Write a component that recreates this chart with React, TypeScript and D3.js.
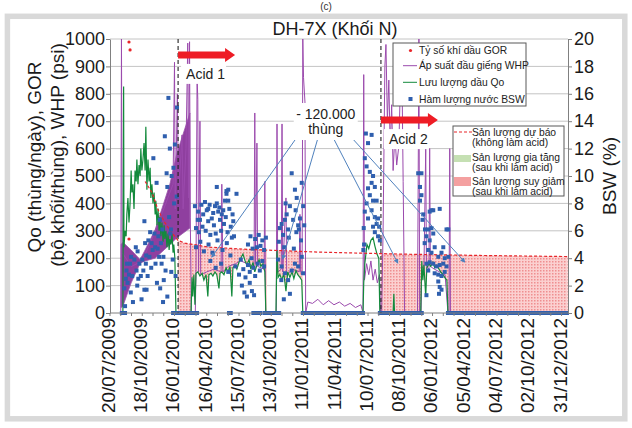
import React, { useEffect, useRef } from 'react';
import * as d3 from 'd3';

// days are counted from 20/07/2009
const startDate = new Date(2009, 6, 20);
const lastDay = 1278;
const leftTicks = d3.range(0, 1001, 100);
const rightTicks = d3.range(0, 21, 2);

// Qo (thùng/ngày)
const qoPoints: [number, number][] = [
	[28, 0], [36, 0], [38, 827], [39, 240], [42, 300], [45, 280], [47, 360], [50, 420], [53, 330], [56, 400],
	[59, 520], [61, 440], [64, 470], [67, 380], [70, 520], [73, 480], [75, 560], [78, 470], [81, 540], [84, 500],
	[86, 600], [89, 520], [92, 560], [95, 620], [98, 520], [100, 680], [103, 450], [106, 560], [109, 480], [112, 530],
	[114, 420], [117, 470], [120, 400], [123, 440], [126, 360], [128, 410], [131, 320], [134, 380], [137, 300], [139, 350],
	[142, 280], [145, 330], [148, 260], [151, 320], [153, 270], [156, 300], [159, 240], [162, 290], [165, 230], [167, 270],
	[170, 250], [173, 290], [176, 220], [178, 250], [181, 200], [184, 0],
	[226, 0], [229, 130], [231, 60], [234, 140], [237, 30], [240, 145], [245, 150], [251, 135], [257, 145], [262, 120],
	[268, 140], [273, 60], [276, 140], [282, 145], [287, 135], [293, 150], [298, 140], [304, 90], [307, 145], [312, 150],
	[318, 140], [324, 165], [329, 150], [335, 170], [340, 60], [343, 165], [349, 175], [354, 160], [360, 185], [365, 200],
	[371, 215], [377, 190], [382, 175], [388, 195], [393, 160], [399, 185], [404, 150], [410, 175], [416, 195], [421, 170],
	[427, 180], [432, 150], [435, 0],
	[463, 0], [466, 230], [469, 130], [474, 140], [480, 120], [485, 145], [491, 80], [496, 150], [502, 130], [508, 150],
	[513, 125], [519, 155], [524, 140], [530, 130], [535, 120], [538, 0],
	[706, 0], [708, 110], [711, 180], [717, 250], [722, 235], [728, 265], [734, 275], [739, 245], [745, 215], [750, 200], [753, 0],
	[790, 0], [792, 70], [794, 0],
	[867, 0], [870, 190], [873, 120], [876, 175], [881, 60], [884, 165], [890, 180], [895, 170], [901, 185], [906, 165],
	[912, 175], [918, 160], [923, 150], [929, 140], [934, 130], [940, 120], [943, 0], [1277, 0],
];

// WHP (psi)
const whpPoints: [number, number][] = [
	[30, 0], [32, 1000], [34, 220], [60, 170], [90, 190], [120, 280], [150, 380], [176, 470],
	[180, 915], [182, 380], [188, 800], [191, 420], [201, 650], [204, 380], [212, 600], [217, 985], [219, 420], [222, 990], [224, 350], [227, 0],
	[238, 0], [240, 160], [243, 860], [245, 780], [247, 150], [251, 700], [253, 140], [270, 150], [290, 160], [310, 150],
	[312, 470], [315, 150], [330, 170], [350, 180], [365, 190],
	[402, 170], [404, 730], [406, 180], [410, 620], [412, 170], [430, 160], [432, 480], [434, 0],
	[464, 0], [466, 690], [468, 150], [478, 160], [480, 690], [482, 150], [491, 420], [493, 140], [510, 160], [528, 150],
	[530, 360], [532, 150], [536, 140], [538, 1000], [540, 860], [544, 770], [546, 0],
	[552, 40], [565, 35], [580, 50], [595, 30], [610, 45], [625, 30], [640, 40], [655, 25], [670, 35], [685, 20], [700, 30],
	[706, 0], [708, 870], [710, 120], [716, 180], [722, 140], [728, 190], [734, 120], [740, 160], [746, 110], [752, 140], [755, 0],
	[758, 0], [762, 300], [767, 900], [770, 980], [774, 700], [778, 850], [782, 600], [786, 760], [790, 520], [795, 650],
	[800, 540], [806, 610], [810, 820], [814, 960], [818, 480], [822, 0],
	[858, 0], [862, 1000], [864, 0], [868, 0], [870, 170], [876, 160], [881, 600], [883, 170], [890, 160], [892, 600],
	[894, 170], [905, 160], [920, 150], [935, 140], [943, 0], [946, 0], [948, 600], [950, 0],
];

// WHP swings in 2009, drawn as a band (low / high)
const whpBandDays = [31, 36, 59, 84, 98, 126, 167, 187, 223];
const whpBandLow = [20, 25, 110, 182, 190, 200, 250, 275, 310];
const whpBandHigh = [250, 258, 230, 195, 230, 304, 470, 584, 730];

// BSW (%)
const bswPoints: [number, number][] = [
	[40, 1.8], [42, 0.5], [44, 2.5], [46, 3.1], [47, 3.6], [49, 2.2], [53, 2.8], [56, 3.6], [58, 1.5], [59, 4.1],
	[62, 2.7], [64, 0.8], [68, 3.9], [72, 4.8], [74, 3.1], [76, 2.0], [77, 4.5], [79, 2.5], [82, 3.6], [86, 2.7],
	[88, 1.0], [90, 3.9], [93, 3.1], [96, 6.7], [96, 1.7], [98, 5.1], [100, 3.6], [101, 4.2], [102, 1.7], [105, 2.7],
	[107, 5.3], [110, 4.1], [112, 5.9], [115, 3.3], [116, 5.1], [119, 4.6], [121, 11.3], [124, 5.8], [126, 4.8], [127, 3.6],
	[130, 9.5], [131, 2.2], [133, 4.7], [135, 5.6], [137, 4.1], [139, 6.8], [140, 1.8], [142, 5.1], [144, 3.6], [146, 6.1],
	[148, 0.8], [149, 4.1], [150, 2.4], [153, 12.9], [155, 3.1], [158, 10.2], [160, 9.2], [160, 1.2], [163, 15.7], [165, 7.0],
	[167, 12.0], [168, 5.8], [170, 6.1], [171, 3.0], [172, 10.0], [175, 3.9], [177, 10.6], [179, 8.0], [181, 12.3], [183, 2.7],
	[186, 8.5], [187, 15.0],
	[237, 7.8], [246, 7.4], [251, 6.8], [260, 7.2], [270, 7.5], [274, 6.7], [284, 6.9], [288, 7.3], [293, 7.8], [298, 8.0],
	[302, 7.4], [307, 6.8], [312, 7.2], [316, 7.5], [321, 8.2], [325, 8.7], [330, 8.2], [337, 6.3], [342, 7.2], [344, 6.7],
	[240, 6.2], [248, 5.9], [255, 7.9], [258, 6.3], [265, 8.1], [267, 6.0], [278, 7.9], [280, 5.7], [290, 6.4], [295, 5.8],
	[305, 7.7], [310, 6.0], [318, 6.5], [323, 7.0], [328, 5.9], [333, 7.6], [340, 5.5],
	[298, 9.2], [325, 8.9], [274, 7.6], [353, 8.7], [245, 6.8], [330, 9.0],
	[240, 4.8], [252, 5.2], [262, 4.5], [275, 5.0], [286, 4.4], [300, 5.3], [314, 4.6], [326, 5.1], [336, 4.2], [346, 5.6],
	[280, 3.8], [295, 3.3], [310, 3.6], [330, 3.0], [350, 3.4], [360, 2.8], [365, 3.9], [372, 3.2], [378, 2.6], [385, 3.5],
	[390, 3.0], [395, 4.0], [400, 3.3], [405, 2.7], [412, 3.6], [418, 3.1], [425, 3.8], [430, 3.4],
	[368, 2.0], [375, 1.5], [382, 1.2], [390, 2.2], [396, 1.6], [402, 1.3],
	[385, 5.0], [392, 5.6], [398, 4.7], [405, 5.4], [410, 4.8], [415, 5.7], [420, 4.9], [425, 5.3], [430, 4.6], [435, 5.5],
	[474, 6.2], [479, 6.5], [483, 5.7], [488, 6.8], [493, 7.2], [497, 6.1], [502, 7.8], [507, 10.2], [511, 6.8], [516, 9.0],
	[521, 8.4], [525, 6.4], [530, 6.9], [535, 9.5], [539, 7.8], [527, 6.1],
	[469, 3.9], [479, 3.4], [488, 2.9], [497, 2.4], [502, 1.4], [507, 3.1], [516, 3.6], [525, 3.4], [535, 4.1], [539, 2.9],
	[478, 2.4], [485, 1.0], [471, 5.2], [486, 4.8], [499, 5.5], [513, 4.7], [520, 5.9], [533, 5.3], [542, 6.4], [490, 8.0], [518, 7.5],
	[711, 11.3], [720, 12.4], [730, 13.0], [716, 10.7], [725, 10.3], [734, 10.0], [730, 9.5], [720, 9.1], [739, 9.2], [725, 8.6],
	[734, 8.2], [716, 8.0], [744, 8.2], [711, 7.4], [730, 7.5], [739, 7.0], [720, 6.9], [744, 6.5], [734, 6.3], [748, 6.9],
	[739, 5.9], [748, 5.6], [751, 6.3], [753, 5.3], [714, 13.1], [707, 4.6], [708, 6.2], [709, 5.0],
	[869, 10.2], [869, 8.6], [865, 8.2], [874, 7.2], [892, 7.4], [902, 7.5], [920, 7.6], [879, 6.1], [888, 6.1], [897, 6.2],
	[883, 5.6], [892, 5.3], [902, 5.8], [906, 4.8], [930, 4.8], [944, 6.1], [888, 4.6], [897, 4.4], [916, 4.1], [925, 4.4],
	[934, 4.0], [944, 4.1], [883, 3.6], [892, 3.7], [902, 3.6], [911, 3.4], [920, 3.5], [930, 3.6], [939, 3.4], [888, 3.1],
	[906, 2.9], [916, 2.8], [925, 2.7], [934, 3.0], [916, 2.3], [920, 1.9], [925, 1.7], [883, 1.3], [918, 1.4], [860, 10.2],
	[865, 9.2], [897, 7.5], [939, 6.1], [872, 6.8], [878, 5.1],
];
// runs of days where BSW = 0 (squares packed along the axis)
const bswZeroRuns: [number, number][] = [
	[33, 42], [176, 228], [237, 243], [332, 337], [400, 420], [432, 472], [538, 706], [753, 870], [943, 1275],
];

// GOR (bộ khối/thùng)
const gorPoints: [number, number][] = [[53, 989], [56, 960], [53, 270]];

// forecast without acid
const forecastPoints: [number, number][] = [
	[98, 480], [117, 440], [134, 377], [153, 330], [173, 292], [190, 265], [209, 255], [279, 240],
	[390, 232], [586, 222], [809, 215], [1032, 210], [1278, 206],
];
const declineRanges: [number, number][] = [[190, 438], [463, 538], [756, 1277]];

const acidDays = [190, 756];
const acidArrowEnd = [349, 915];
const acidArrowValue = [942, 704];
const acidNames = ['Acid 1', 'Acid 2'];

const calloutDay = 602;
const calloutFrom: [number, number][] = [[522, 642], [581, 642], [623, 639], [670, 646]];
const calloutTo: [number, number][] = [[284, 204], [482, 197], [803, 182], [990, 186]];

const FONT = "'Liberation Sans', Arial, sans-serif";

const bis = d3.bisector((p: [number, number]) => p[0]).left;
function valueAt(pts: [number, number][], d: number) {
	const i = bis(pts, d);
	if (i <= 0) return pts[0][1];
	if (i >= pts.length) return pts[pts.length - 1][1];
	const a = pts[i - 1], b = pts[i];
	if (b[0] === d) return b[1];
	return a[1] + ((b[1] - a[1]) * (d - a[0])) / (b[0] - a[0]);
}

export default function App() {
	const ref = useRef<SVGSVGElement>(null);

	useEffect(() => {
		const svg = d3.select(ref.current);
		svg.selectAll('*').remove();

		const day = (d: number) => d3.timeDay.offset(startDate, d);
		const x = d3.scaleTime().domain([startDate, day(lastDay)]).range([110, 568]);
		const xd = (d: number) => x(day(d));
		const yL = d3.scaleLinear().domain([0, 1000]).range([313, 39]);
		const yR = d3.scaleLinear().domain([0, 20]).range([313, 39]);

		const defs = svg.append('defs');
		const pat = defs.append('pattern').attr('id', 'dots').attr('width', 3).attr('height', 3).attr('patternUnits', 'userSpaceOnUse');
		pat.append('rect').attr('width', 3).attr('height', 3).attr('fill', '#fbd0d0');
		pat.append('rect').attr('width', 1.5).attr('height', 1.5).attr('fill', '#ef8f90');
		defs.append('marker').attr('id', 'tip').attr('viewBox', '0 0 6 6').attr('refX', 5).attr('refY', 3)
			.attr('markerWidth', 5).attr('markerHeight', 5).attr('orient', 'auto')
			.append('path').attr('d', 'M0,0L6,3L0,6Z').attr('fill', '#4f81bd');

		// frame
		svg.append('rect').attr('width', 632).attr('height', 428).attr('fill', '#fff');
		svg.append('rect').attr('x', 7.4).attr('y', 16.3).attr('width', 617.4).attr('height', 402.5)
			.attr('fill', '#fff').attr('stroke', '#d9d9d9').attr('stroke-width', 5.5);
		svg.append('text').attr('x', 326).attr('y', 10).attr('text-anchor', 'middle')
			.attr('font-family', FONT).attr('font-size', 10).attr('fill', '#333').text('(c)');

		// grid
		svg.append('g').selectAll('line').data(leftTicks.slice(1)).join('line')
			.attr('x1', 110).attr('x2', 568).attr('y1', (v) => yL(v)).attr('y2', (v) => yL(v))
			.attr('stroke', '#c4c4c4').attr('stroke-width', 1);

		// decline area (pink)
		const area = d3.area<number>()
			.x((d) => xd(d))
			.y1((d) => yL(valueAt(forecastPoints, d)))
			.y0((d) => yL(Math.min(valueAt(qoPoints, d), valueAt(forecastPoints, d))));
		declineRanges.forEach(([a, b]) => {
			svg.append('path').datum(d3.range(a, b + 0.25, 0.5)).attr('d', area).attr('fill', 'url(#dots)');
		});

		// WHP band + line
		const band = d3.area<number>()
			.x((d, i) => xd(whpBandDays[i]))
			.y0((d, i) => yL(whpBandLow[i]))
			.y1((d, i) => yL(whpBandHigh[i]));
		svg.append('path').datum(whpBandDays).attr('d', band).attr('fill', '#8f3f9f').attr('stroke', '#9b55ab').attr('stroke-width', 0.8);
		const line = d3.line<[number, number]>().x((p) => xd(p[0])).y((p) => yL(p[1]));
		svg.append('path').datum(whpPoints).attr('d', line).attr('fill', 'none').attr('stroke', '#9b4aad').attr('stroke-width', 1);

		// Qo
		svg.append('path').datum(qoPoints).attr('d', line).attr('fill', 'none').attr('stroke', '#138a3c').attr('stroke-width', 1.2);

		// forecast
		svg.append('path').datum(forecastPoints).attr('d', line).attr('fill', 'none')
			.attr('stroke', '#e8262a').attr('stroke-width', 1.2).attr('stroke-dasharray', '3,2');

		// BSW
		svg.append('g').selectAll('rect').data(bswPoints).join('rect')
			.attr('x', (p) => xd(p[0]) - 2).attr('y', (p) => yR(p[1]) - 2).attr('width', 4).attr('height', 4)
			.attr('fill', '#2f5fae');
		svg.append('g').selectAll('rect').data(bswZeroRuns).join('rect')
			.attr('x', (r) => xd(r[0]) - 2).attr('width', (r) => xd(r[1]) - xd(r[0]) + 4)
			.attr('y', yR(0) - 2).attr('height', 4).attr('fill', '#2f5fae');

		// GOR
		svg.append('g').selectAll('circle').data(gorPoints).join('circle')
			.attr('cx', (p) => xd(p[0])).attr('cy', (p) => yL(p[1])).attr('r', 1.6).attr('fill', '#e8262a');

		// acid markers
		acidDays.forEach((d, i) => {
			const x0 = xd(d), x1 = xd(acidArrowEnd[i]), yc = yL(acidArrowValue[i]);
			svg.append('line').attr('x1', x0).attr('x2', x0).attr('y1', 39).attr('y2', 313)
				.attr('stroke', '#222').attr('stroke-width', 1.1).attr('stroke-dasharray', '4,3');
			svg.append('path')
				.attr('d', `M${x0},${yc - 3.5}L${x1 - 10},${yc - 3.5}L${x1 - 10},${yc - 7}L${x1},${yc}L${x1 - 10},${yc + 7}L${x1 - 10},${yc + 3.5}L${x0},${yc + 3.5}Z`)
				.attr('fill', '#ee1c25');
			svg.append('rect').attr('x', x0 + 3).attr('y', yc + 9).attr('width', 45).attr('height', 20).attr('fill', '#fff');
			svg.append('text').attr('x', x0 + 8).attr('y', yc + 24).attr('font-family', FONT).attr('font-size', 14)
				.attr('fill', '#222').text(acidNames[i]);
		});

		// callout
		calloutFrom.forEach((f, i) => {
			const t = calloutTo[i];
			svg.append('line').attr('x1', xd(f[0])).attr('y1', yL(f[1])).attr('x2', xd(t[0])).attr('y2', yL(t[1]))
				.attr('stroke', '#4f81bd').attr('stroke-width', 1).attr('marker-end', 'url(#tip)');
		});
		const cx = xd(calloutDay);
		svg.append('rect').attr('x', cx - 32).attr('y', 103).attr('width', 64).attr('height', 37).attr('fill', '#fff');
		svg.append('text').attr('x', cx).attr('y', 119).attr('text-anchor', 'middle').attr('font-family', FONT)
			.attr('font-size', 14).attr('fill', '#222').text('- 120.000');
		svg.append('text').attr('x', cx).attr('y', 134).attr('text-anchor', 'middle').attr('font-family', FONT)
			.attr('font-size', 14).attr('fill', '#222').text('thùng');

		// axes
		const styleAxis = (g: any, size: number) => {
			g.selectAll('path').attr('stroke', '#808080');
			g.selectAll('line').attr('stroke', '#808080');
			g.selectAll('text').attr('font-family', FONT).attr('font-size', size).attr('fill', '#1a1a1a');
		};
		svg.append('g').attr('transform', 'translate(110,0)')
			.call(d3.axisLeft(yL).tickValues(leftTicks).tickSize(4).tickSizeOuter(0).tickPadding(1).tickFormat(d3.format('d')))
			.call((g) => styleAxis(g, 18));
		svg.append('g').attr('transform', 'translate(568,0)')
			.call(d3.axisRight(yR).tickValues(rightTicks).tickSize(4).tickSizeOuter(0).tickPadding(2).tickFormat(d3.format('d')))
			.call((g) => styleAxis(g, 18));

		svg.append('line').attr('x1', 110).attr('x2', 568).attr('y1', 313).attr('y2', 313).attr('stroke', '#808080');
		svg.append('g').selectAll('line').data(d3.range(0, lastDay, 30)).join('line')
			.attr('x1', (d) => xd(d)).attr('x2', (d) => xd(d)).attr('y1', 313).attr('y2', 316).attr('stroke', '#808080');
		const fmt = d3.timeFormat('%d/%m/%Y');
		svg.append('g').selectAll('text').data(d3.range(0, 1261, 90)).join('text')
			.attr('transform', (d) => `translate(${xd(d)},318) rotate(-90)`)
			.attr('text-anchor', 'end').attr('dy', '0.26em')
			.attr('font-family', FONT).attr('font-size', 19).attr('fill', '#1a1a1a')
			.text((d) => fmt(day(d)));

		// titles
		svg.append('text').attr('x', 335).attr('y', 35).attr('text-anchor', 'middle').attr('font-family', FONT)
			.attr('font-size', 18).attr('fill', '#1a1a1a').text('DH-7X (Khối N)');
		svg.append('text').attr('transform', 'translate(41,157) rotate(-90)').attr('text-anchor', 'middle')
			.attr('font-family', FONT).attr('font-size', 19).attr('fill', '#1a1a1a').text('Qo (thùng/ngày), GOR');
		svg.append('text').attr('transform', 'translate(64,155) rotate(-90)').attr('text-anchor', 'middle')
			.attr('font-family', FONT).attr('font-size', 19).attr('fill', '#1a1a1a').text('(bộ khối/thùng), WHP (psi)');
		svg.append('text').attr('transform', 'translate(616,176) rotate(-90)').attr('text-anchor', 'middle')
			.attr('font-family', FONT).attr('font-size', 19).attr('fill', '#1a1a1a').text('BSW (%)');

		// legend 1
		const lg1 = svg.append('g').attr('transform', 'translate(393,43)');
		lg1.append('rect').attr('width', 133).attr('height', 63).attr('fill', '#fff').attr('stroke', '#595959');
		const rows = [7.5, 22.7, 39.3, 56];
		lg1.append('circle').attr('cx', 17.5).attr('cy', rows[0]).attr('r', 1.6).attr('fill', '#e8262a');
		lg1.append('line').attr('x1', 10).attr('x2', 24).attr('y1', rows[1]).attr('y2', rows[1]).attr('stroke', '#9b4aad');
		lg1.append('line').attr('x1', 10).attr('x2', 24).attr('y1', rows[2]).attr('y2', rows[2]).attr('stroke', '#138a3c');
		lg1.append('rect').attr('x', 15.5).attr('y', rows[3] - 2).attr('width', 4).attr('height', 4).attr('fill', '#2f5fae');
		['Tỷ số khí dầu GOR', 'Áp suất đầu giếng WHP', 'Lưu lượng dầu Qo', 'Hàm lượng nước BSW'].forEach((t, i) => {
			lg1.append('text').attr('x', 26).attr('y', rows[i]).attr('dy', '0.35em').attr('font-family', FONT)
				.attr('font-size', 10.3).attr('fill', '#222').text(t);
		});

		// legend 2
		const lg2 = svg.append('g').attr('transform', 'translate(453,126)');
		lg2.append('rect').attr('width', 111).attr('height', 70).attr('fill', '#fff').attr('stroke', '#595959');
		lg2.append('line').attr('x1', 1).attr('x2', 19).attr('y1', 6).attr('y2', 6)
			.attr('stroke', '#e8262a').attr('stroke-width', 1.2).attr('stroke-dasharray', '3,2');
		lg2.append('rect').attr('x', 1).attr('y', 29).attr('width', 17).attr('height', 7).attr('fill', '#c5e0b3');
		lg2.append('rect').attr('x', 1).attr('y', 51).attr('width', 17).attr('height', 9).attr('fill', '#f4a0a0');
		const lines2 = [
			['Sản lượng dự báo', 6], ['(không làm acid)', 16],
			['Sản lượng gia tăng', 31], ['(sau khi làm acid)', 41],
			['Sản lượng suy giảm', 55], ['(sau khi làm acid)', 65],
		];
		lines2.forEach(([t, yy]) => {
			lg2.append('text').attr('x', 19).attr('y', yy as number).attr('dy', '0.35em').attr('font-family', FONT)
				.attr('font-size', 10.3).attr('fill', '#222').text(t as string);
		});
	}, []);

	return (
		<div style={{ position: 'absolute', left: 0, top: 0 }}>
			<svg ref={ref} width={632} height={428} style={{ display: 'block' }} />
		</div>
	);
}
